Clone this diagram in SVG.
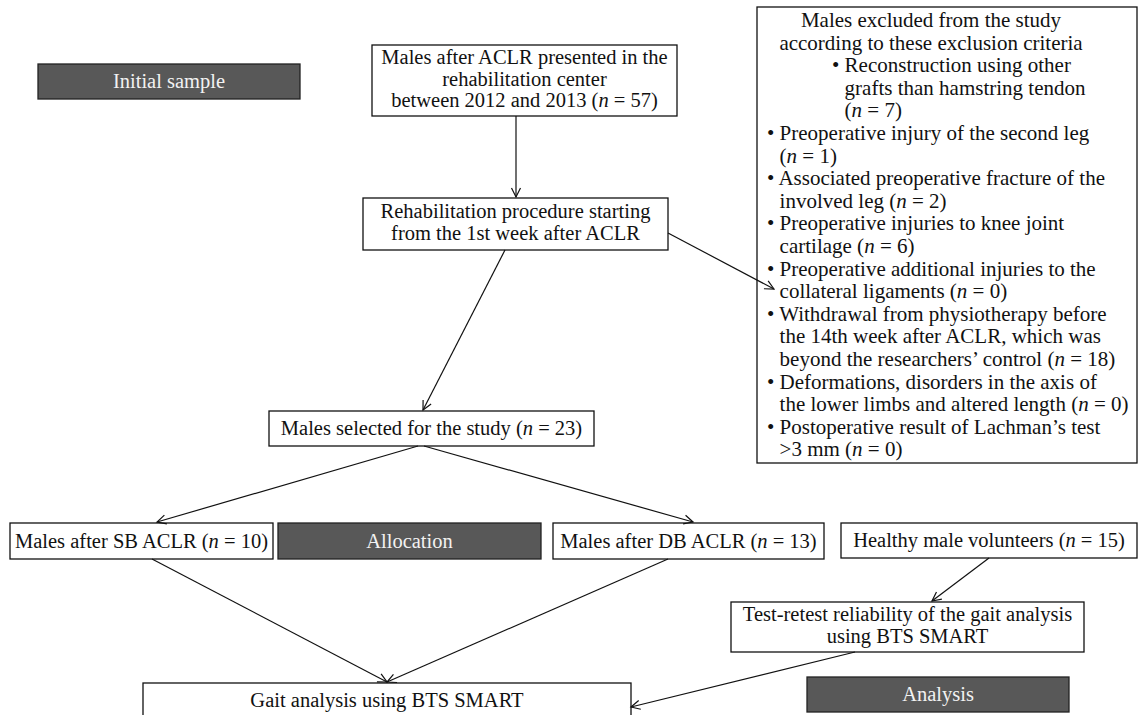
<svg xmlns="http://www.w3.org/2000/svg" width="1139" height="715" viewBox="0 0 1139 715">
<style>
text{font-family:"Liberation Serif","Times New Roman",serif;font-size:20.5px;fill:#111}
.c{text-anchor:middle}
.ex{font-size:21px}
.box{fill:#fff;stroke:#111;stroke-width:1.3}
.dark{fill:#585858;stroke:#222;stroke-width:1.3}
.lt{fill:#f2f2f2}
.i{font-style:italic}
.ln{fill:none;stroke:#111;stroke-width:1.2}
</style>
<defs>
<marker id="ah" markerUnits="userSpaceOnUse" markerWidth="10" markerHeight="10" refX="9" refY="4.5" orient="auto" overflow="visible">
<path d="M0,0 L9,4.5 L0,9" fill="none" stroke="#111" stroke-width="1.2"/>
</marker>
</defs>
<rect width="1139" height="715" fill="#fff"/>
<g id="initial-sample">
<rect class="dark" x="38" y="64" width="262" height="35"/>
<text class="c lt" x="169" y="88">Initial sample</text>
</g>
<g id="males-after-aclr">
<rect class="box" x="372" y="45" width="305" height="71"/>
<text class="c" x="524.5" y="64">Males after ACLR presented in the</text>
<text class="c" x="524.5" y="85.5">rehabilitation center</text>
<text class="c" x="524.5" y="107">between 2012 and 2013 (<tspan class="i">n</tspan> = 57)</text>
</g>
<g id="rehabilitation">
<rect class="box" x="363" y="198" width="305" height="52"/>
<text class="c" x="515.5" y="218">Rehabilitation procedure starting</text>
<text class="c" x="515.5" y="240">from the 1st week after ACLR</text>
</g>
<g id="excluded">
<rect class="box" x="757" y="7" width="380" height="456"/>
<text class="c ex" x="931" y="27">Males excluded from the study</text>
<text class="c ex" x="931" y="49.6">according to these exclusion criteria</text>
<text class="ex" x="832" y="72.2">• Reconstruction using other</text>
<text class="ex" x="844.6" y="94.8">grafts than hamstring tendon</text>
<text class="ex" x="844.6" y="117.4">(<tspan class="i">n</tspan> = 7)</text>
<text class="ex" x="767" y="140">• Preoperative injury of the second leg</text>
<text class="ex" x="779.6" y="162.6">(<tspan class="i">n</tspan> = 1)</text>
<text class="ex" x="767" y="185.2">• Associated preoperative fracture of the</text>
<text class="ex" x="779.6" y="207.8">involved leg (<tspan class="i">n</tspan> = 2)</text>
<text class="ex" x="767" y="230.4">• Preoperative injuries to knee joint</text>
<text class="ex" x="779.6" y="253">cartilage (<tspan class="i">n</tspan> = 6)</text>
<text class="ex" x="767" y="275.6">• Preoperative additional injuries to the</text>
<text class="ex" x="779.6" y="298.2">collateral ligaments (<tspan class="i">n</tspan> = 0)</text>
<text class="ex" x="767" y="320.8">• Withdrawal from physiotherapy before</text>
<text class="ex" x="779.6" y="343.4">the 14th week after ACLR, which was</text>
<text class="ex" x="779.6" y="366">beyond the researchers’ control (<tspan class="i">n</tspan> = 18)</text>
<text class="ex" x="767" y="388.6">• Deformations, disorders in the axis of</text>
<text class="ex" x="779.6" y="411.2">the lower limbs and altered length (<tspan class="i">n</tspan> = 0)</text>
<text class="ex" x="767" y="433.8">• Postoperative result of Lachman’s test</text>
<text class="ex" x="779.6" y="456.4">&gt;3 mm (<tspan class="i">n</tspan> = 0)</text>
</g>
<g id="selected">
<rect class="box" x="269" y="411" width="325" height="35"/>
<text class="c" x="431.5" y="435">Males selected for the study (<tspan class="i">n</tspan> = 23)</text>
</g>
<g id="sb-aclr">
<rect class="box" x="10" y="523" width="263" height="36"/>
<text class="c" x="141.5" y="548">Males after SB ACLR (<tspan class="i">n</tspan> = 10)</text>
</g>
<g id="allocation">
<rect class="dark" x="278" y="523" width="263" height="36"/>
<text class="c lt" x="409.5" y="548">Allocation</text>
</g>
<g id="db-aclr">
<rect class="box" x="553" y="523" width="271" height="36"/>
<text class="c" x="688.5" y="548">Males after DB ACLR (<tspan class="i">n</tspan> = 13)</text>
</g>
<g id="healthy">
<rect class="box" x="841" y="523" width="296" height="35"/>
<text class="c" x="989" y="547">Healthy male volunteers (<tspan class="i">n</tspan> = 15)</text>
</g>
<g id="test-retest">
<rect class="box" x="731" y="602" width="353" height="50"/>
<text class="c" x="907.5" y="621">Test-retest reliability of the gait analysis</text>
<text class="c" x="907.5" y="643">using BTS SMART</text>
</g>
<g id="analysis">
<rect class="dark" x="807" y="677" width="262" height="35"/>
<text class="c lt" x="938" y="701">Analysis</text>
</g>
<g id="gait">
<rect class="box" x="143" y="683" width="488" height="40"/>
<text class="c" x="387" y="707">Gait analysis using BTS SMART</text>
</g>
<g id="connectors">
<line class="ln" x1="516" y1="116" x2="516" y2="197" marker-end="url(#ah)"/>
<line class="ln" x1="505" y1="250" x2="423" y2="410" marker-end="url(#ah)"/>
<line class="ln" x1="668" y1="233" x2="774" y2="289" marker-end="url(#ah)"/>
<line class="ln" x1="418" y1="446" x2="157" y2="522" marker-end="url(#ah)"/>
<line class="ln" x1="424" y1="446" x2="693" y2="522" marker-end="url(#ah)"/>
<line class="ln" x1="152" y1="559" x2="387" y2="682" marker-end="url(#ah)"/>
<line class="ln" x1="668" y1="559" x2="387" y2="682" marker-end="url(#ah)"/>
<line class="ln" x1="989" y1="558" x2="932" y2="601" marker-end="url(#ah)"/>
<line class="ln" x1="855" y1="652" x2="631" y2="707" marker-end="url(#ah)"/>
</g>
</svg>
